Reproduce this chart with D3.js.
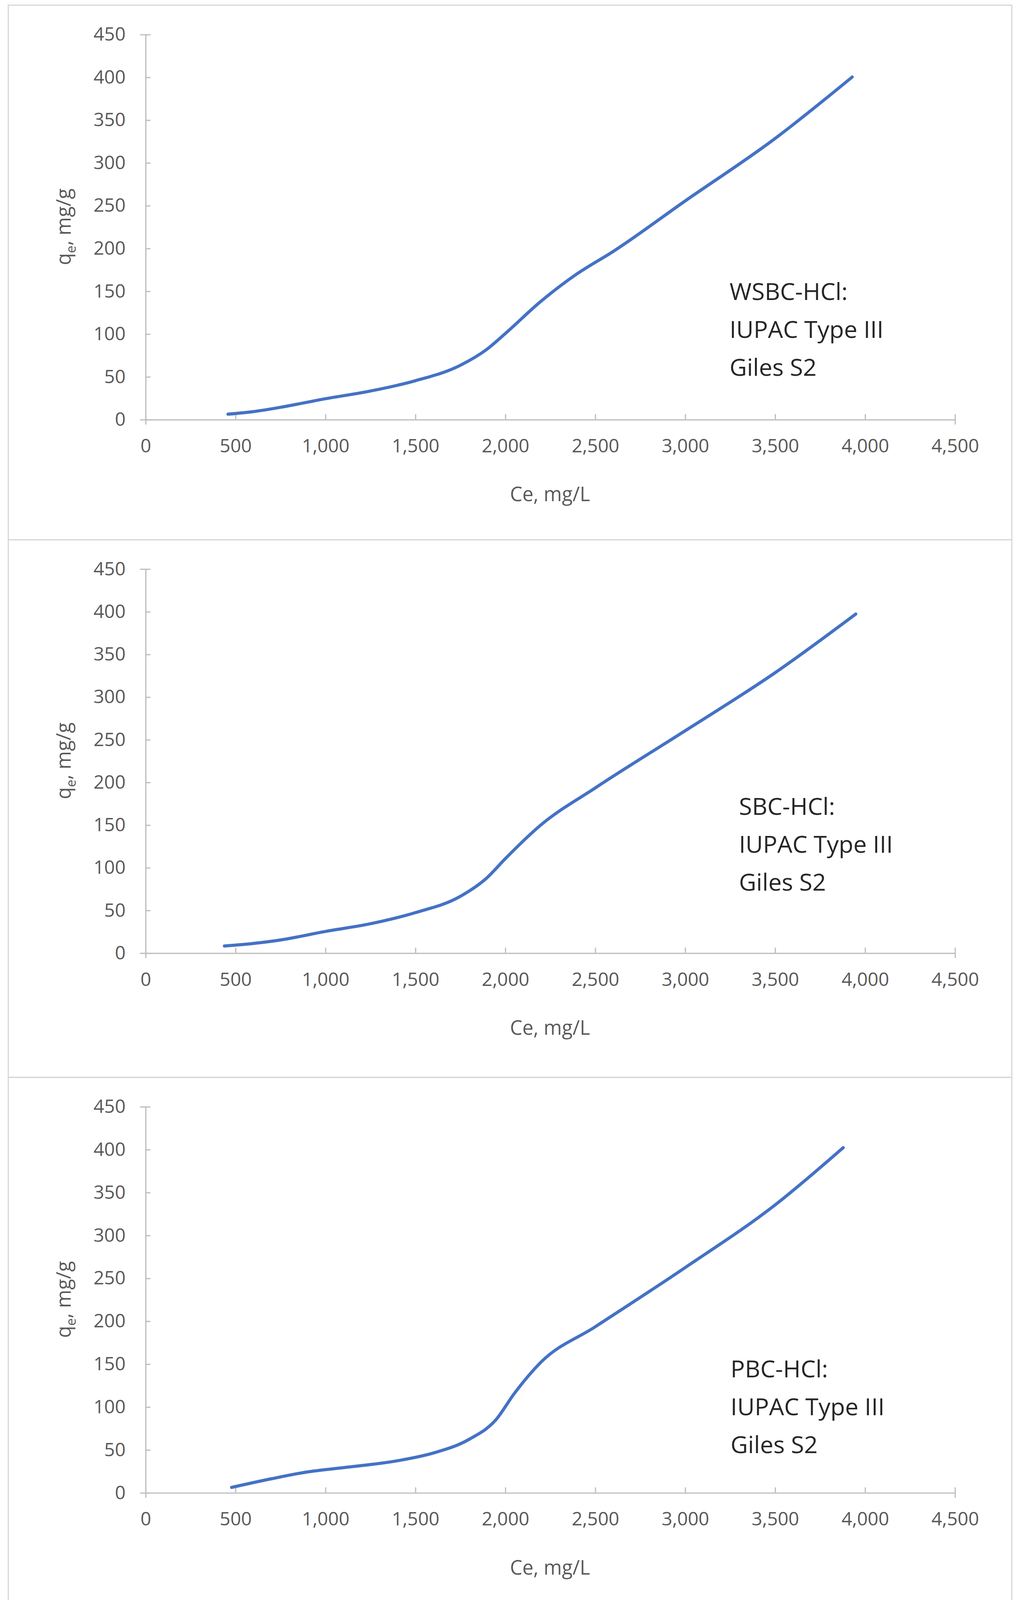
<!DOCTYPE html>
<html>
<head>
<meta charset="utf-8">
<script src="https://cdn.jsdelivr.net/npm/d3@7"></script>
<style>
  body { margin: 0; background: #fff; }
  text { font-family: "Open Sans", "DejaVu Sans", sans-serif; }
</style>
</head>
<body>
<script>
// Isotherm data: Ce (mg/L) vs qe (mg/g)
var wsbcCe = [460, 600, 750, 1000, 1250, 1500, 1750, 1900, 2000, 2200, 2400, 2600, 3000, 3500, 3930];
var wsbcQe = [6, 9, 14, 24, 33, 45, 63, 82, 100, 138, 170, 196, 255, 328, 400];
var sbcCe = [440, 600, 750, 1000, 1250, 1500, 1750, 1900, 2000, 2200, 2500, 3000, 3500, 3950];
var sbcQe = [8, 11, 15, 25, 34, 47, 66, 88, 110, 150, 193, 260, 328, 397];
var pbcCe = [480, 700, 900, 1100, 1400, 1600, 1800, 1950, 2050, 2200, 2500, 3000, 3500, 3880];
var pbcQe = [6, 16, 24, 29, 37, 46, 62, 85, 115, 152, 193, 262, 335, 402];
var labels = [['WSBC-HCl:', 'IUPAC Type III', 'Giles S2'],
              ['SBC-HCl:', 'IUPAC Type III', 'Giles S2'],
              ['PBC-HCl:', 'IUPAC Type III', 'Giles S2']];
var xTicks = d3.range(0, 4501, 500);
var yTicks = d3.range(0, 451, 50);

var panels = [
  {ce: wsbcCe, qe: wsbcQe, top: 5, bottom: 520, y0: 404, y450: 33, lx: 703, ly: 280},
  {ce: sbcCe, qe: sbcQe, top: 520, bottom: 1038, y0: 918, y450: 548, lx: 712, ly: 776},
  {ce: pbcCe, qe: pbcQe, top: 1038, bottom: 1557, y0: 1438, y450: 1066, lx: 704, ly: 1318}
];

var svg = d3.select('body').append('svg')
    .attr('width', 2604)
    .attr('height', 4152)
    .attr('viewBox', '0 0 980 1562.6');

var x = d3.scaleLinear().domain([0, 4500]).range([140, 920]);
var fmt = d3.format(',');

panels.forEach(function(p, i) {
  var y = d3.scaleLinear().domain([0, 450]).range([p.y0, p.y450]);
  var g = svg.append('g');

  g.append('rect')
      .attr('x', 8).attr('y', p.top)
      .attr('width', 967).attr('height', p.bottom - p.top)
      .attr('fill', 'none').attr('stroke', '#d9d9d9').attr('stroke-width', 1.2);

  var xa = g.append('g')
      .attr('transform', 'translate(0,' + p.y0 + ')')
      .call(d3.axisBottom(x).tickValues(xTicks).tickFormat(fmt).tickSize(5).tickPadding(14));
  var ya = g.append('g')
      .attr('transform', 'translate(140,0)')
      .call(d3.axisLeft(y).tickValues(yTicks).tickSize(5).tickPadding(14));
  [xa, ya].forEach(function(a) {
    a.select('.domain').attr('stroke', '#bfbfbf').attr('stroke-width', 1.2);
    a.selectAll('.tick line').attr('stroke', '#bfbfbf').attr('stroke-width', 1.2);
    a.selectAll('.tick text').attr('fill', '#595959').style('font-size', '18px')
      .style('font-family', '"Open Sans", sans-serif');
  });
  // y ticks point inward-left like Excel: flip to outside
  ya.selectAll('.tick line').attr('x2', 5);
  xa.selectAll('.tick line').attr('y2', -5);

  g.append('text')
      .attr('x', 530).attr('y', p.y0 + 79)
      .attr('text-anchor', 'middle').attr('fill', '#595959')
      .style('font-size', '19px')
      .text('Ce,  mg/L');

  var yl = g.append('text')
      .attr('transform', 'translate(68,' + (p.y450 + p.y0) / 2 + ') rotate(-90)')
      .attr('text-anchor', 'middle').attr('fill', '#595959')
      .style('font-size', '19px');
  yl.append('tspan').text('q');
  yl.append('tspan').attr('dy', 5).style('font-size', '13px').text('e');
  yl.append('tspan').attr('dy', -5).text(',  mg/g');

  var line = d3.line()
      .x(function(d) { return x(d[0]); })
      .y(function(d) { return y(d[1]); })
      .curve(d3.curveMonotoneX);
  g.append('path')
      .datum(d3.zip(p.ce, p.qe))
      .attr('d', line)
      .attr('fill', 'none')
      .attr('stroke', '#4472c4')
      .attr('stroke-width', 3)
      .attr('stroke-linecap', 'round');

  g.selectAll('text.note')
      .data(labels[i])
    .enter().append('text')
      .attr('class', 'note')
      .attr('x', p.lx)
      .attr('y', function(d, j) { return p.ly + j * 36.5 + 9; })
      .attr('fill', '#262626')
      .style('font-size', '23px')
      .text(function(d) { return d; });
});
</script>
</body>
</html>
